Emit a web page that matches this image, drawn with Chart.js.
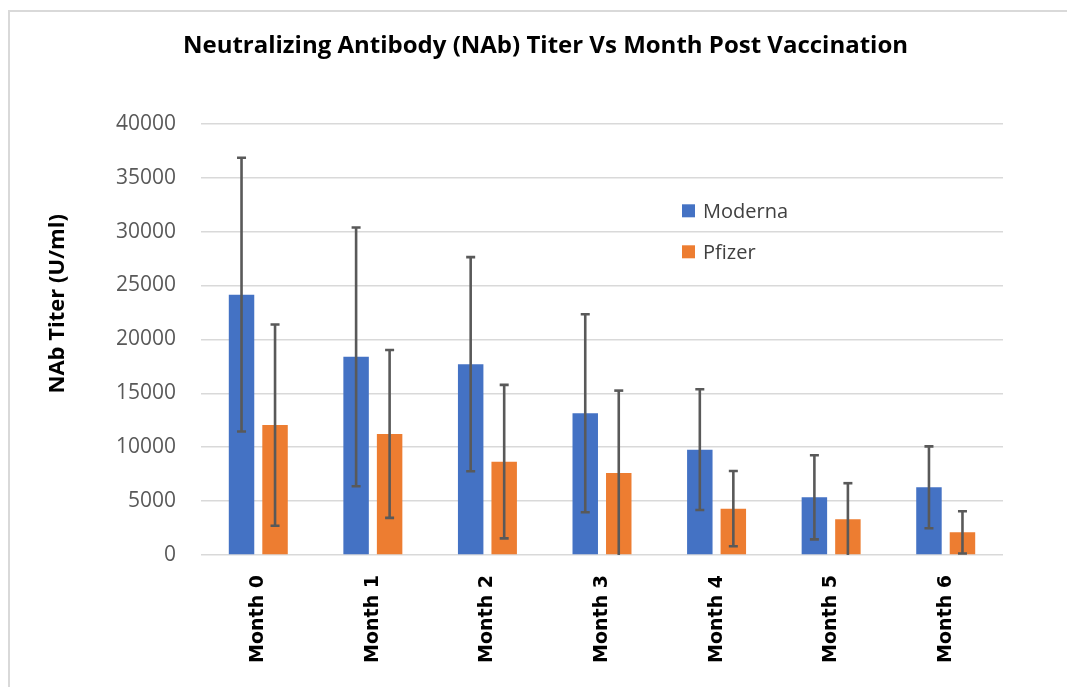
<!DOCTYPE html>
<html>
<head>
<meta charset="utf-8">
<script src="https://cdn.jsdelivr.net/npm/chart.js@4.4.1/dist/chart.umd.min.js"></script>
<style>
  html, body { margin: 0; padding: 0; background: #ffffff; overflow: hidden; }
  #wrap { position: relative; width: 1067px; height: 687px; }
  #frame { position: absolute; left: 8px; top: 10px; width: 1100px; height: 800px;
           border: 2px solid #d9d9d9; box-sizing: border-box; pointer-events: none; }
  canvas { position: absolute; left: 0; top: 0; }
</style>
</head>
<body>
<div id="wrap">
  <div id="frame"></div>
  <canvas id="c" width="1067" height="687"></canvas>
</div>
<script>
// ---- data ----
const categories = ["Month 0", "Month 1", "Month 2", "Month 3", "Month 4", "Month 5", "Month 6"];
const seriesNames = ["Moderna", "Pfizer"];
const modernaValues = [24150, 18380, 17700, 13150, 9770, 5350, 6280];
const pfizerValues  = [12050, 11230, 8660, 7610, 4300, 3310, 2100];
const modernaErrors = [12700, 12000, 9930, 9180, 5600, 3900, 3800];
const pfizerErrors  = [9330, 7790, 7120, 7640, 3490, 3350, 1960];
const yTicks = [0, 5000, 10000, 15000, 20000, 25000, 30000, 35000, 40000];
const chartTitle = "Neutralizing Antibody (NAb) Titer Vs Month Post Vaccination";
const yAxisTitle = "NAb Titer (U/ml)";

const colors = ["#4472C4", "#ED7D31"];
const errorSets = [modernaErrors, pfizerErrors];

// error bar plugin
const errorBarPlugin = {
  id: 'errorBars',
  afterDatasetsDraw(chart) {
    const ctx = chart.ctx;
    const y = chart.scales.y;
    const area = chart.chartArea;
    ctx.save();
    ctx.strokeStyle = '#595959';
    ctx.lineWidth = 2.6;
    chart.data.datasets.forEach((ds, i) => {
      const meta = chart.getDatasetMeta(i);
      meta.data.forEach((bar, j) => {
        const v = ds.data[j];
        const e = errorSets[i][j];
        const hiV = v + e, loV = v - e;
        const x = bar.x;
        const yHi = y.getPixelForValue(hiV);
        const yLo = y.getPixelForValue(loV);
        const yLoC = Math.min(yLo, area.bottom);
        ctx.beginPath();
        ctx.moveTo(x, yHi);
        ctx.lineTo(x, yLoC);
        ctx.stroke();
        const cap = 4.5;
        ctx.beginPath();
        ctx.moveTo(x - cap, yHi); ctx.lineTo(x + cap, yHi);
        if (yLo < area.bottom) { ctx.moveTo(x - cap, yLo); ctx.lineTo(x + cap, yLo); }
        ctx.stroke();
      });
    });
    ctx.restore();
  }
};

// legend (inside plot area) and y-axis title
const insideLegend = {
  id: 'insideLegend',
  afterDraw(chart) {
    const ctx = chart.ctx;
    const area = chart.chartArea;
    const x0 = area.left + 481;
    const rows = [area.top + 87, area.top + 128];
    ctx.save();
    ctx.font = '20px "Open Sans"';
    ctx.textBaseline = 'middle';
    ctx.textAlign = 'left';
    seriesNames.forEach((name, i) => {
      ctx.fillStyle = colors[i];
      ctx.fillRect(x0, rows[i] - 6.5, 13, 13);
      ctx.fillStyle = '#404040';
      ctx.fillText(name, x0 + 21, rows[i] + 1);
    });
    ctx.restore();

    // y axis title
    ctx.save();
    ctx.translate(area.left - 143, area.top + 180);
    ctx.rotate(-Math.PI / 2);
    ctx.font = 'bold 22px "Open Sans"';
    ctx.fillStyle = '#000000';
    ctx.textAlign = 'center';
    ctx.textBaseline = 'middle';
    ctx.fillText(yAxisTitle, 0, 0);
    ctx.restore();
  }
};

new Chart(document.getElementById('c'), {
  type: 'bar',
  data: {
    labels: categories,
    datasets: [
      { label: seriesNames[0], data: modernaValues, backgroundColor: colors[0],
        categoryPercentage: 0.585, barPercentage: 0.76 },
      { label: seriesNames[1], data: pfizerValues, backgroundColor: colors[1],
        categoryPercentage: 0.585, barPercentage: 0.76 }
    ]
  },
  options: {
    responsive: false,
    animation: false,
    devicePixelRatio: 1,
    layout: { padding: { left: 88, right: 64, top: 0, bottom: 0 } },
    plugins: {
      legend: { display: false },
      tooltip: { enabled: false },
      title: {
        display: true,
        text: chartTitle,
        color: '#000000',
        font: { family: '"Open Sans"', size: 24, weight: 'bold', lineHeight: 1.2 },
        padding: { top: 32, bottom: 63 }
      }
    },
    scales: {
      x: {
        grid: { display: false, drawTicks: false },
        border: { display: false },
        ticks: {
          color: '#000000',
          font: { family: '"DejaVu Sans"', size: 19, weight: 'bold' },
          maxRotation: 90, minRotation: 90,
          padding: 20
        },
        afterFit(scale) { scale.height = 132; }
      },
      y: {
        min: 0, max: 40000,
        afterBuildTicks(scale) { scale.ticks = yTicks.map(v => ({ value: v })); },
        grid: { color: '#d9d9d9', lineWidth: 1.5, drawTicks: false },
        border: { display: false },
        ticks: {
          color: '#595959',
          font: { family: '"Open Sans"', size: 21 },
          padding: 25,
          callback: (v) => String(v)
        },
        afterFit(scale) { scale.width = 113; }
      }
    }
  },
  plugins: [errorBarPlugin, insideLegend]
});
</script>
</body>
</html>
